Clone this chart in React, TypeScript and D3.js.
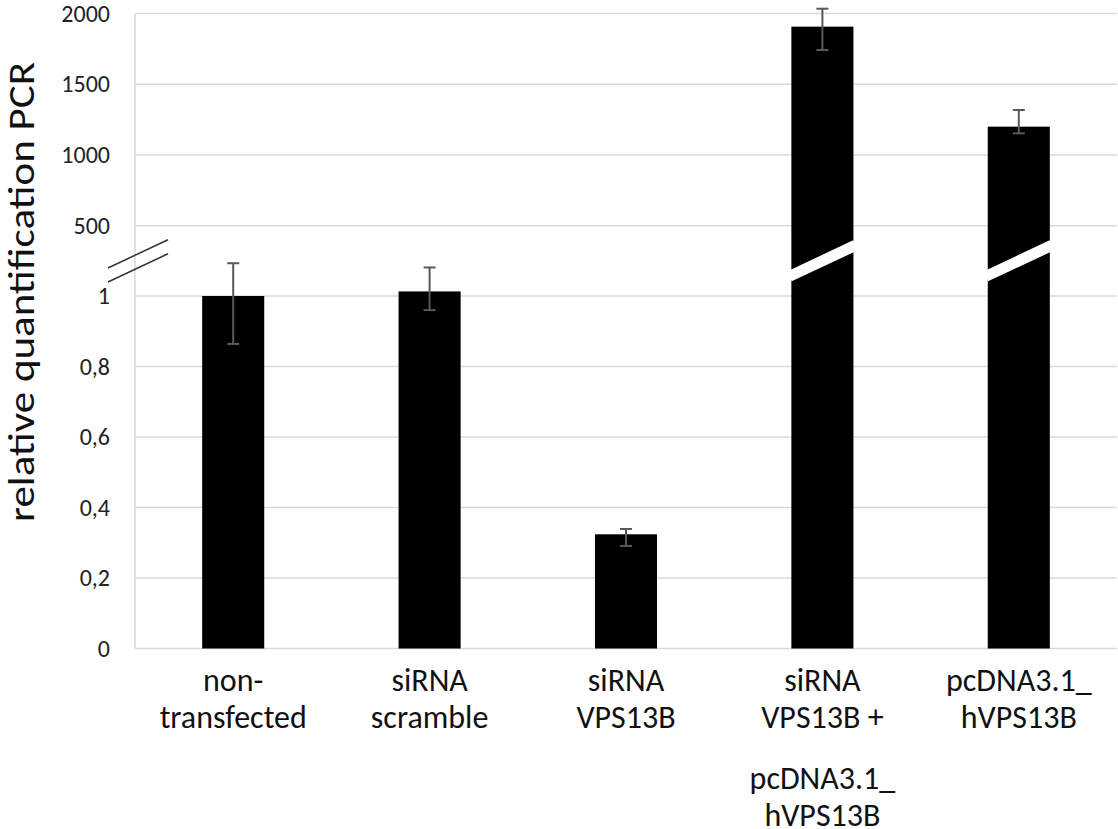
import React from "react";
import * as d3 from "d3";

// data
const categories = [
  ["non-", "transfected"],
  ["siRNA", "scramble"],
  ["siRNA", "VPS13B"],
  ["siRNA", "VPS13B +", "pcDNA3.1_", "hVPS13B"],
  ["pcDNA3.1_", "hVPS13B"],
];
const values = [1.0, 1.013, 0.324, 1907, 1200];
const errPlus = [0.093, 0.068, 0.015, 127, 118];
const errMinus = [0.136, 0.053, 0.033, 165, 47];
const lowerTicks = [0, 0.2, 0.4, 0.6, 0.8, 1];
const upperTicks = [500, 1000, 1500, 2000];

const W = 1118;
const H = 829;
const font = "Carlito, Calibri, 'Open Sans', sans-serif";

const App = () => {
  const x = d3
    .scaleBand<number>()
    .domain(d3.range(categories.length))
    .range([135, 1117])
    .paddingInner(0.684)
    .paddingOuter(0.342);

  const yLow = d3.scaleLinear().domain([0, 1]).range([648.5, 296]);
  const yHigh = d3.scaleLinear().domain([500, 2000]).range([225.7, 13.5]);

  // bars that belong to the upper (broken) part of the axis
  const isHigh = (v: number) => v > upperTicks[0] / 5;
  const fmt = (v: number) => (v < 10 ? String(v).replace(".", ",") : String(v));

  // middle of the gap between the two axis parts
  const breakY = (yLow(1) + yHigh(500)) / 2;
  const slope = 0.47;

  return (
    <svg
      width={W}
      height={H}
      style={{ position: "absolute", left: 0, top: 0, background: "#fff" }}
      fontFamily={font}
    >
      {/* gridlines */}
      {lowerTicks.map((t) => (
        <line key={"l" + t} x1={135} x2={1117} y1={yLow(t)} y2={yLow(t)} stroke="#d9d9d9" strokeWidth={1.5} />
      ))}
      {upperTicks.map((t) => (
        <line key={"u" + t} x1={135} x2={1117} y1={yHigh(t)} y2={yHigh(t)} stroke="#d9d9d9" strokeWidth={1.5} />
      ))}
      <line x1={135} x2={135} y1={yHigh(2000)} y2={yLow(0)} stroke="#d9d9d9" strokeWidth={1.5} />

      {/* tick labels */}
      {lowerTicks.map((t) => (
        <text key={"tl" + t} x={110} y={yLow(t)} dy="0.34em" textAnchor="end" fontSize={24} fill="#222">
          {fmt(t)}
        </text>
      ))}
      {upperTicks.map((t) => (
        <text key={"tu" + t} x={110} y={yHigh(t)} dy="0.34em" textAnchor="end" fontSize={24} fill="#222">
          {fmt(t)}
        </text>
      ))}

      {/* axis break marks */}
      {[-7, 7].map((o) => (
        <line
          key={"bk" + o}
          x1={108}
          x2={168}
          y1={breakY + o + slope * 30}
          y2={breakY + o - slope * 30}
          stroke="#333"
          strokeWidth={1.5}
        />
      ))}

      {/* bars */}
      {values.map((v, i) => {
        const y = isHigh(v) ? yHigh : yLow;
        const x0 = x(i)!;
        const bw = x.bandwidth();
        const cx = x0 + bw / 2;
        const top = y(v);
        const hi = y(v + errPlus[i]);
        const lo = y(v - errMinus[i]);
        return (
          <g key={"b" + i}>
            <rect x={x0} y={top} width={bw} height={yLow(0) - top} fill="#000" />
            {isHigh(v) && (
              <line
                x1={x0 - 2}
                x2={x0 + bw + 2}
                y1={breakY + slope * (bw / 2 + 2)}
                y2={breakY - slope * (bw / 2 + 2)}
                stroke="#fff"
                strokeWidth={11}
              />
            )}
            <line x1={cx} x2={cx} y1={hi} y2={lo} stroke="#595959" strokeWidth={2} />
            <line x1={cx - 6} x2={cx + 6} y1={hi} y2={hi} stroke="#595959" strokeWidth={2} />
            <line x1={cx - 6} x2={cx + 6} y1={lo} y2={lo} stroke="#595959" strokeWidth={2} />
          </g>
        );
      })}

      {/* category labels */}
      {categories.map((lines, i) => {
        const cx = x(i)! + x.bandwidth() / 2;
        return (
          <text key={"c" + i} textAnchor="middle" fontSize={32} fill="#111">
            {lines.map((s, j) => (
              <tspan key={j} x={cx} y={691 + j * 37 + (j >= 2 ? 24 : 0)}>
                {s}
              </tspan>
            ))}
          </text>
        );
      })}

      {/* y axis title */}
      <text
        transform={`translate(34, 292) rotate(-90)`}
        textAnchor="middle"
        fontSize={36}
        textLength={460}
        lengthAdjust="spacingAndGlyphs"
        fill="#111"
      >
        relative quantification PCR
      </text>
    </svg>
  );
};

export default App;
